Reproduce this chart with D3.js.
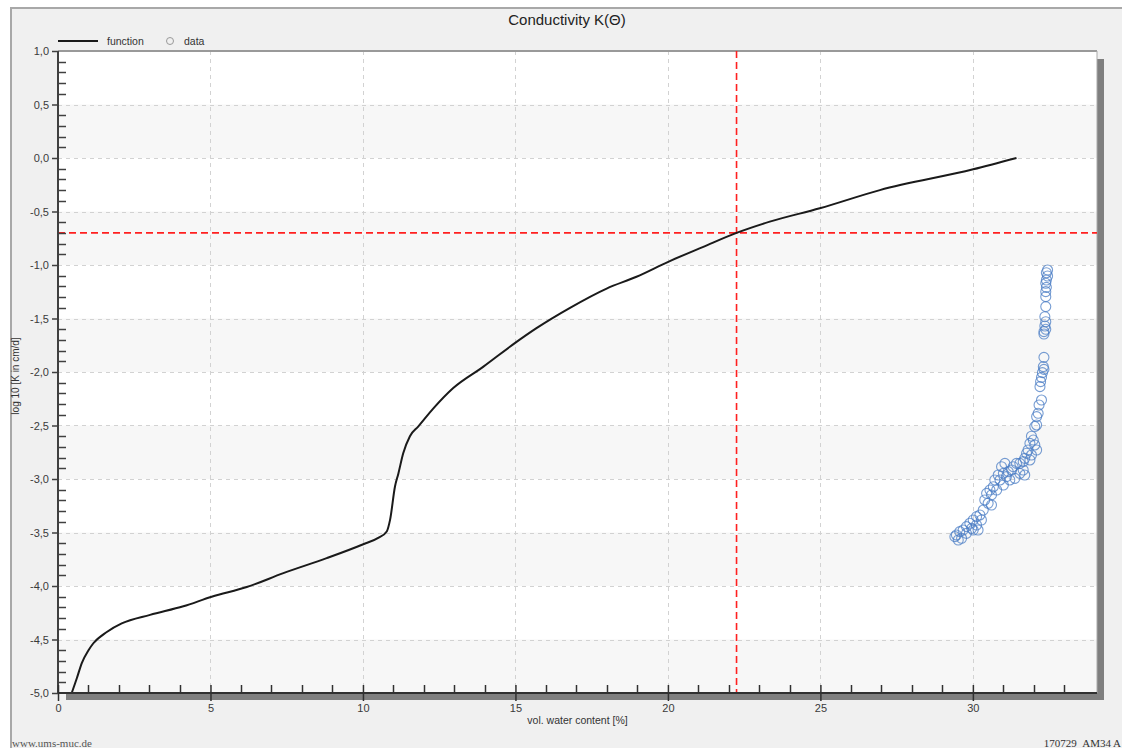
<!DOCTYPE html>
<html>
<head>
<meta charset="utf-8">
<script src="https://cdn.jsdelivr.net/npm/d3@7"></script>
<style>
  html, body { margin: 0; padding: 0; background: #ffffff; }
  svg { display: block; font-family: "Liberation Sans", Arial, sans-serif; }
</style>
</head>
<body>
<svg id="chart" width="1122" height="748"></svg>
<script>
// ---------------- data ----------------
const chartTitle = "Conductivity K(Θ)";
const xAxisTitle = "vol. water content [%]";
const yAxisTitle = "log 10 [K in cm/d]";
const legendLabels = ["function", "data"];
const footerLeft = "www.ums-muc.de";
const footerRight = "170729_AM34 A";

const xMajorTicks = [0, 5, 10, 15, 20, 25, 30];
const yMajorTicks = [1.0, 0.5, 0.0, -0.5, -1.0, -1.5, -2.0, -2.5, -3.0, -3.5, -4.0, -4.5, -5.0];

// function curve (water content %, log10 K)
const funcX = [0.45, 0.62, 0.78, 1.0, 1.16, 1.6, 2.09, 3.02, 4.11, 5.04, 6.19, 7.39, 8.81, 10.01, 10.5, 10.78,
  10.89, 11.05, 11.16, 11.32, 11.54, 11.81, 12.31, 12.96, 13.95, 14.98, 15.69, 16.79, 17.99, 18.97, 20.01,
  21.16, 22.25, 23.34, 24.98, 26.95, 30.01, 31.43];
const funcY = [-5.0, -4.86, -4.72, -4.6, -4.535, -4.43, -4.35, -4.27, -4.19, -4.10, -4.01, -3.88, -3.74, -3.61, -3.55, -3.49,
  -3.38, -3.07, -2.95, -2.76, -2.60, -2.51, -2.34, -2.15, -1.95, -1.73, -1.59, -1.40, -1.22, -1.11, -0.97,
  -0.83, -0.70, -0.595, -0.47, -0.30, -0.106, 0.0];

// measured data (water content %, log10 K)
const dataX = [32.45, 32.41, 32.45, 32.41, 32.39, 32.41, 32.39, 32.39, 32.39, 32.36, 32.39, 32.36, 32.39, 32.33, 32.33,
  32.33, 32.31, 32.33, 32.28, 32.25, 32.22, 32.20, 32.25, 32.17, 32.14, 32.09,
  32.09, 32.03, 31.92, 31.98, 31.87, 32.03, 31.81, 32.09, 31.76, 31.92, 31.70, 31.87, 31.65, 31.54, 31.43,
  31.32, 31.27, 31.16, 31.05, 30.94, 31.00, 30.83, 31.10, 30.89, 30.72, 30.67, 30.78, 31.00, 31.21, 31.38,
  31.54, 31.65, 31.70, 30.56, 30.45, 30.61, 30.39, 30.50, 30.61, 30.34, 30.23, 30.12, 30.28, 30.01, 29.90,
  30.12, 29.79, 29.96, 29.68, 29.57, 29.46, 29.41, 29.52, 29.63, 29.79, 30.01, 30.17];
const dataY = [-1.047, -1.072, -1.103, -1.140, -1.171, -1.209, -1.249, -1.296, -1.389, -1.483, -1.530, -1.570, -1.601, -1.623, -1.645,
  -1.863, -1.950, -1.975, -2.006, -2.050, -2.090, -2.137, -2.262, -2.308, -2.386, -2.417,
  -2.495, -2.51, -2.60, -2.636, -2.667, -2.682, -2.729, -2.729, -2.760, -2.776, -2.807, -2.822, -2.838, -2.854, -2.854,
  -2.885, -2.916, -2.931, -2.854, -2.885, -2.947, -2.963, -2.978, -3.009, -3.009, -3.072, -3.103, -3.056, -3.009, -2.994,
  -2.947, -2.916, -2.963, -3.103, -3.134, -3.149, -3.196, -3.227, -3.243, -3.290, -3.336, -3.352, -3.383, -3.383, -3.414,
  -3.430, -3.445, -3.461, -3.477, -3.492, -3.523, -3.539, -3.570, -3.554, -3.508, -3.477, -3.477];

// red cross-hair marker
const markerX = [22.25];
const markerY = [-0.70];

// ---------------- layout ----------------
const svg = d3.select("#chart");
const plot = { left: 58, right: 1097, top: 51, bottom: 693 };
const x = d3.scaleLinear().domain([0, 34.07]).range([plot.left, plot.right]);
const y = d3.scaleLinear().domain([-5, 1]).range([plot.bottom, plot.top]);
const fmt = v => d3.format(".1f")(v).replace(".", ",").replace("−", "-");

// outer panel
svg.append("rect").attr("x", 0).attr("y", 0).attr("width", 1122).attr("height", 748).attr("fill", "#ffffff");
svg.append("rect").attr("x", 11).attr("y", 8).attr("width", 1130).attr("height", 760)
  .attr("fill", "#f0f0f0").attr("stroke", "#a8a8a8").attr("stroke-width", 2);

// shadow of plot area
svg.append("rect").attr("x", plot.left + 8).attr("y", plot.bottom).attr("width", plot.right - plot.left - 1)
  .attr("height", 7).attr("fill", "#7f7f7f");
svg.append("rect").attr("x", plot.right).attr("y", plot.top + 8).attr("width", 7)
  .attr("height", plot.bottom - plot.top - 1).attr("fill", "#7f7f7f");

// plot background + bands
svg.append("rect").attr("x", plot.left).attr("y", plot.top).attr("width", plot.right - plot.left)
  .attr("height", plot.bottom - plot.top).attr("fill", "#ffffff");
const bandStarts = d3.range(0, 6).map(i => 0.5 - i);   // gray band top values
svg.append("g").selectAll("rect").data(bandStarts).join("rect")
  .attr("x", plot.left).attr("width", plot.right - plot.left)
  .attr("y", d => y(d)).attr("height", d => y(d - 0.5) - y(d))
  .attr("fill", "#f7f7f7");

// grid
const grid = svg.append("g").attr("stroke", "#d2d2d2").attr("stroke-dasharray", "4,4").attr("stroke-width", 1);
grid.selectAll("line.h").data(yMajorTicks.filter(v => v > -5 && v < 1)).join("line")
  .attr("x1", plot.left).attr("x2", plot.right).attr("y1", d => Math.round(y(d)) + 0.5).attr("y2", d => Math.round(y(d)) + 0.5);
grid.selectAll("line.v").data(xMajorTicks.filter(v => v > 0)).join("line")
  .attr("y1", plot.top).attr("y2", plot.bottom).attr("x1", d => Math.round(x(d)) + 0.5).attr("x2", d => Math.round(x(d)) + 0.5);

// plot frame (top & right)
svg.append("line").attr("x1", plot.left).attr("x2", plot.right).attr("y1", plot.top).attr("y2", plot.top)
  .attr("stroke", "#999").attr("stroke-width", 2);
svg.append("line").attr("x1", plot.right).attr("x2", plot.right).attr("y1", plot.top).attr("y2", plot.bottom)
  .attr("stroke", "#aaa").attr("stroke-width", 1);

// red cross-hair
const red = svg.append("g").attr("stroke", "#ff2020").attr("stroke-width", 1.6).attr("stroke-dasharray", "7,4");
red.append("line").attr("x1", x(markerX[0])).attr("x2", x(markerX[0])).attr("y1", plot.top).attr("y2", plot.bottom);
red.append("line").attr("x1", plot.left).attr("x2", plot.right).attr("y1", y(markerY[0])).attr("y2", y(markerY[0]));

// function curve
const funcPts = funcX.map((v, i) => [v, funcY[i]]);
svg.append("path").datum(funcPts)
  .attr("fill", "none").attr("stroke", "#1a1a1a").attr("stroke-width", 2)
  .attr("stroke-linejoin", "round")
  .attr("d", d3.line().curve(d3.curveMonotoneX).x(d => x(d[0])).y(d => y(d[1])));

// data circles
const dataPts = dataX.map((v, i) => [v, dataY[i]]);
svg.append("g").selectAll("circle").data(dataPts).join("circle")
  .attr("cx", d => x(d[0])).attr("cy", d => y(d[1])).attr("r", 5)
  .attr("fill", "none").attr("stroke", "#4a7cc4").attr("stroke-opacity", 0.75).attr("stroke-width", 1.1);

// axes lines
svg.append("line").attr("x1", plot.left).attr("x2", plot.left).attr("y1", plot.top).attr("y2", plot.bottom)
  .attr("stroke", "#404040").attr("stroke-width", 2);
svg.append("line").attr("x1", plot.left).attr("x2", plot.right).attr("y1", plot.bottom).attr("y2", plot.bottom)
  .attr("stroke", "#303030").attr("stroke-width", 2);

// y axis ticks & labels via d3.axisLeft
const yAxisG = svg.append("g").attr("transform", `translate(${plot.left},0)`)
  .call(d3.axisLeft(y).tickValues(yMajorTicks).tickSize(6).tickPadding(3).tickFormat(fmt));
yAxisG.select(".domain").remove();
yAxisG.selectAll(".tick line").attr("stroke", "#404040").attr("stroke-width", 1.5);
yAxisG.selectAll(".tick text").attr("fill", "#3a3a3a").attr("font-size", 11)
  .attr("font-family", "'Liberation Sans', Arial, sans-serif");
const yMinor = d3.range(-50, 10).map(i => i / 10).filter(v => Math.abs(v * 2 - Math.round(v * 2)) > 1e-6);
svg.append("g").selectAll("line").data(yMinor).join("line")
  .attr("x1", plot.left).attr("x2", plot.left + 8)
  .attr("y1", d => Math.round(y(d)) + 0.5).attr("y2", d => Math.round(y(d)) + 0.5)
  .attr("stroke", "#404040").attr("stroke-width", 1.5);

// x axis ticks & labels
const xAxisG = svg.append("g").attr("transform", `translate(0,${plot.bottom})`)
  .call(d3.axisBottom(x).tickValues(xMajorTicks).tickSize(8).tickPadding(3).tickFormat(d3.format("d")));
xAxisG.select(".domain").remove();
xAxisG.selectAll(".tick line").attr("stroke", "#303030").attr("stroke-width", 1.5).attr("y1", -8);
xAxisG.selectAll(".tick text").attr("fill", "#3a3a3a").attr("font-size", 11)
  .attr("font-family", "'Liberation Sans', Arial, sans-serif");
const xMinor = d3.range(1, 34).filter(v => v % 5 !== 0);
svg.append("g").selectAll("line").data(xMinor).join("line")
  .attr("x1", d => Math.round(x(d)) + 0.5).attr("x2", d => Math.round(x(d)) + 0.5)
  .attr("y1", plot.bottom - 8).attr("y2", plot.bottom)
  .attr("stroke", "#303030").attr("stroke-width", 1.5);

// titles
svg.append("text").attr("x", 567).attr("y", 25).attr("text-anchor", "middle")
  .attr("font-size", 15).attr("fill", "#222").text(chartTitle);
svg.append("text").attr("x", (plot.left + plot.right) / 2).attr("y", 724).attr("text-anchor", "middle")
  .attr("font-size", 10.5).attr("fill", "#333").text(xAxisTitle);
svg.append("text").attr("transform", `translate(19,376) rotate(-90)`).attr("text-anchor", "middle")
  .attr("font-size", 10).attr("fill", "#333").text(yAxisTitle);

// legend
svg.append("line").attr("x1", 58).attr("x2", 98).attr("y1", 41).attr("y2", 41)
  .attr("stroke", "#1a1a1a").attr("stroke-width", 2);
svg.append("text").attr("x", 107).attr("y", 45).attr("font-size", 10.5).attr("fill", "#333").text(legendLabels[0]);
svg.append("circle").attr("cx", 170).attr("cy", 41).attr("r", 3.5)
  .attr("fill", "none").attr("stroke", "#999").attr("stroke-width", 1);
svg.append("text").attr("x", 184).attr("y", 45).attr("font-size", 10.5).attr("fill", "#333").text(legendLabels[1]);

// footer
svg.append("text").attr("x", 12).attr("y", 747).attr("font-size", 11)
  .attr("font-family", "'Liberation Serif', 'Times New Roman', serif").attr("fill", "#555").text(footerLeft);
svg.append("text").attr("x", 1121).attr("y", 747).attr("text-anchor", "end").attr("font-size", 11)
  .attr("font-family", "'Liberation Serif', 'Times New Roman', serif").attr("fill", "#333").text(footerRight);
</script>
</body>
</html>
